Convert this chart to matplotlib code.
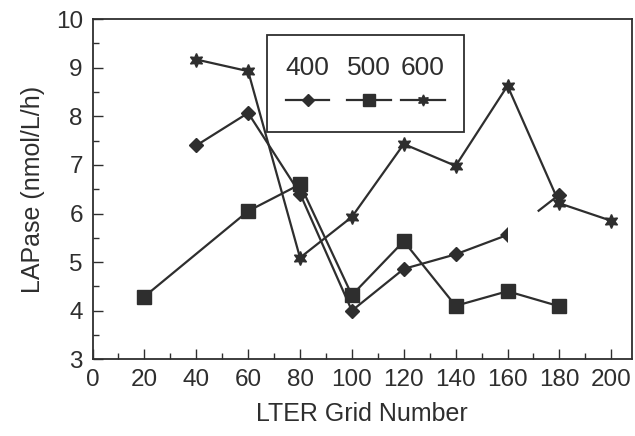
import matplotlib
matplotlib.use("Agg")
import matplotlib.pyplot as plt
from matplotlib.lines import Line2D
from matplotlib.patches import Rectangle
from matplotlib.ticker import MultipleLocator

plt.rcParams['font.family'] = ['Liberation Sans', 'DejaVu Sans']

INK = '#2e2e2e'

grid_400 = [40, 60, 80, 100, 120, 140, 160, 180]
lapase_400 = [7.40, 8.07, 6.41, 4.00, 4.86, 5.16, 5.56, 6.39]

grid_500 = [20, 60, 80, 100, 120, 140, 160, 180]
lapase_500 = [4.29, 6.05, 6.60, 4.32, 5.43, 4.10, 4.40, 4.09]

grid_600 = [40, 60, 80, 100, 120, 140, 160, 180, 200]
lapase_600 = [9.17, 8.93, 5.09, 5.93, 7.43, 6.98, 8.63, 6.21, 5.85]

STAR = (6, 1, 0)

fig = plt.figure(figsize=(6.35, 4.36), dpi=100)
ax = fig.add_axes([0.1457, 0.176, 0.8496, 0.780])

lw = 1.6
# 400 series: drawn up to 160, then a broken stub into 180
ax.plot(grid_400[:-1], lapase_400[:-1], color=INK, lw=lw, marker='D', ms=7,
        markevery=list(range(len(grid_400) - 2)))
ax.plot(grid_400[-2], lapase_400[-2], marker='D', ms=8, color=INK,
        fillstyle='left', markerfacecoloralt='white', markeredgewidth=0, ls='none')
f = 0.6
x0 = grid_400[-2] + f * (grid_400[-1] - grid_400[-2])
y0 = lapase_400[-2] + f * (lapase_400[-1] - lapase_400[-2])
ax.plot([x0, grid_400[-1]], [y0, lapase_400[-1]], color=INK, lw=lw, marker='D',
        ms=7, markevery=[1])

ax.plot(grid_500, lapase_500, color=INK, lw=lw, marker='s', ms=10)
ax.plot(grid_600, lapase_600, color=INK, lw=lw, marker=STAR, ms=10)

ax.set_xlim(0, 208)
ax.set_ylim(3, 10)
ax.xaxis.set_major_locator(MultipleLocator(20))
ax.xaxis.set_minor_locator(MultipleLocator(10))
ax.yaxis.set_major_locator(MultipleLocator(1))
ax.yaxis.set_minor_locator(MultipleLocator(0.5))
ax.tick_params(which='both', direction='in', colors=INK, labelsize=17.5,
               width=1, top=False, right=False)
ax.tick_params(which='major', length=7)
ax.tick_params(which='minor', length=4)
ax.tick_params(axis='x', pad=7)
ax.tick_params(axis='y', pad=7)
for s in ax.spines.values():
    s.set_color(INK)
    s.set_linewidth(1.3)

ax.set_xlabel('LTER Grid Number', fontsize=18, color=INK, labelpad=8)
ax.set_ylabel('LAPase (nmol/L/h)', fontsize=18, color=INK, labelpad=8)

# legend box: labels above the sample lines
ax.add_patch(Rectangle((0.3235, 0.668), 0.365, 0.285, transform=ax.transAxes,
                       fill=False, edgecolor=INK, lw=1.3))
legend_items = [('400', 'D', 6), ('500', 's', 9), ('600', STAR, 8)]
centers = [0.399, 0.5125, 0.6126]
for (lab, mk, ms), cx in zip(legend_items, centers):
    ax.text(cx, 0.856, lab, transform=ax.transAxes, ha='center', va='center',
            fontsize=19, color=INK)
    ax.add_line(Line2D([cx - 0.04, cx + 0.04], [0.762, 0.762], transform=ax.transAxes,
                       color=INK, lw=lw))
    ax.add_line(Line2D([cx], [0.762], transform=ax.transAxes, color=INK,
                       marker=mk, ms=ms, ls='none'))

fig.savefig('out.png', dpi=100)
